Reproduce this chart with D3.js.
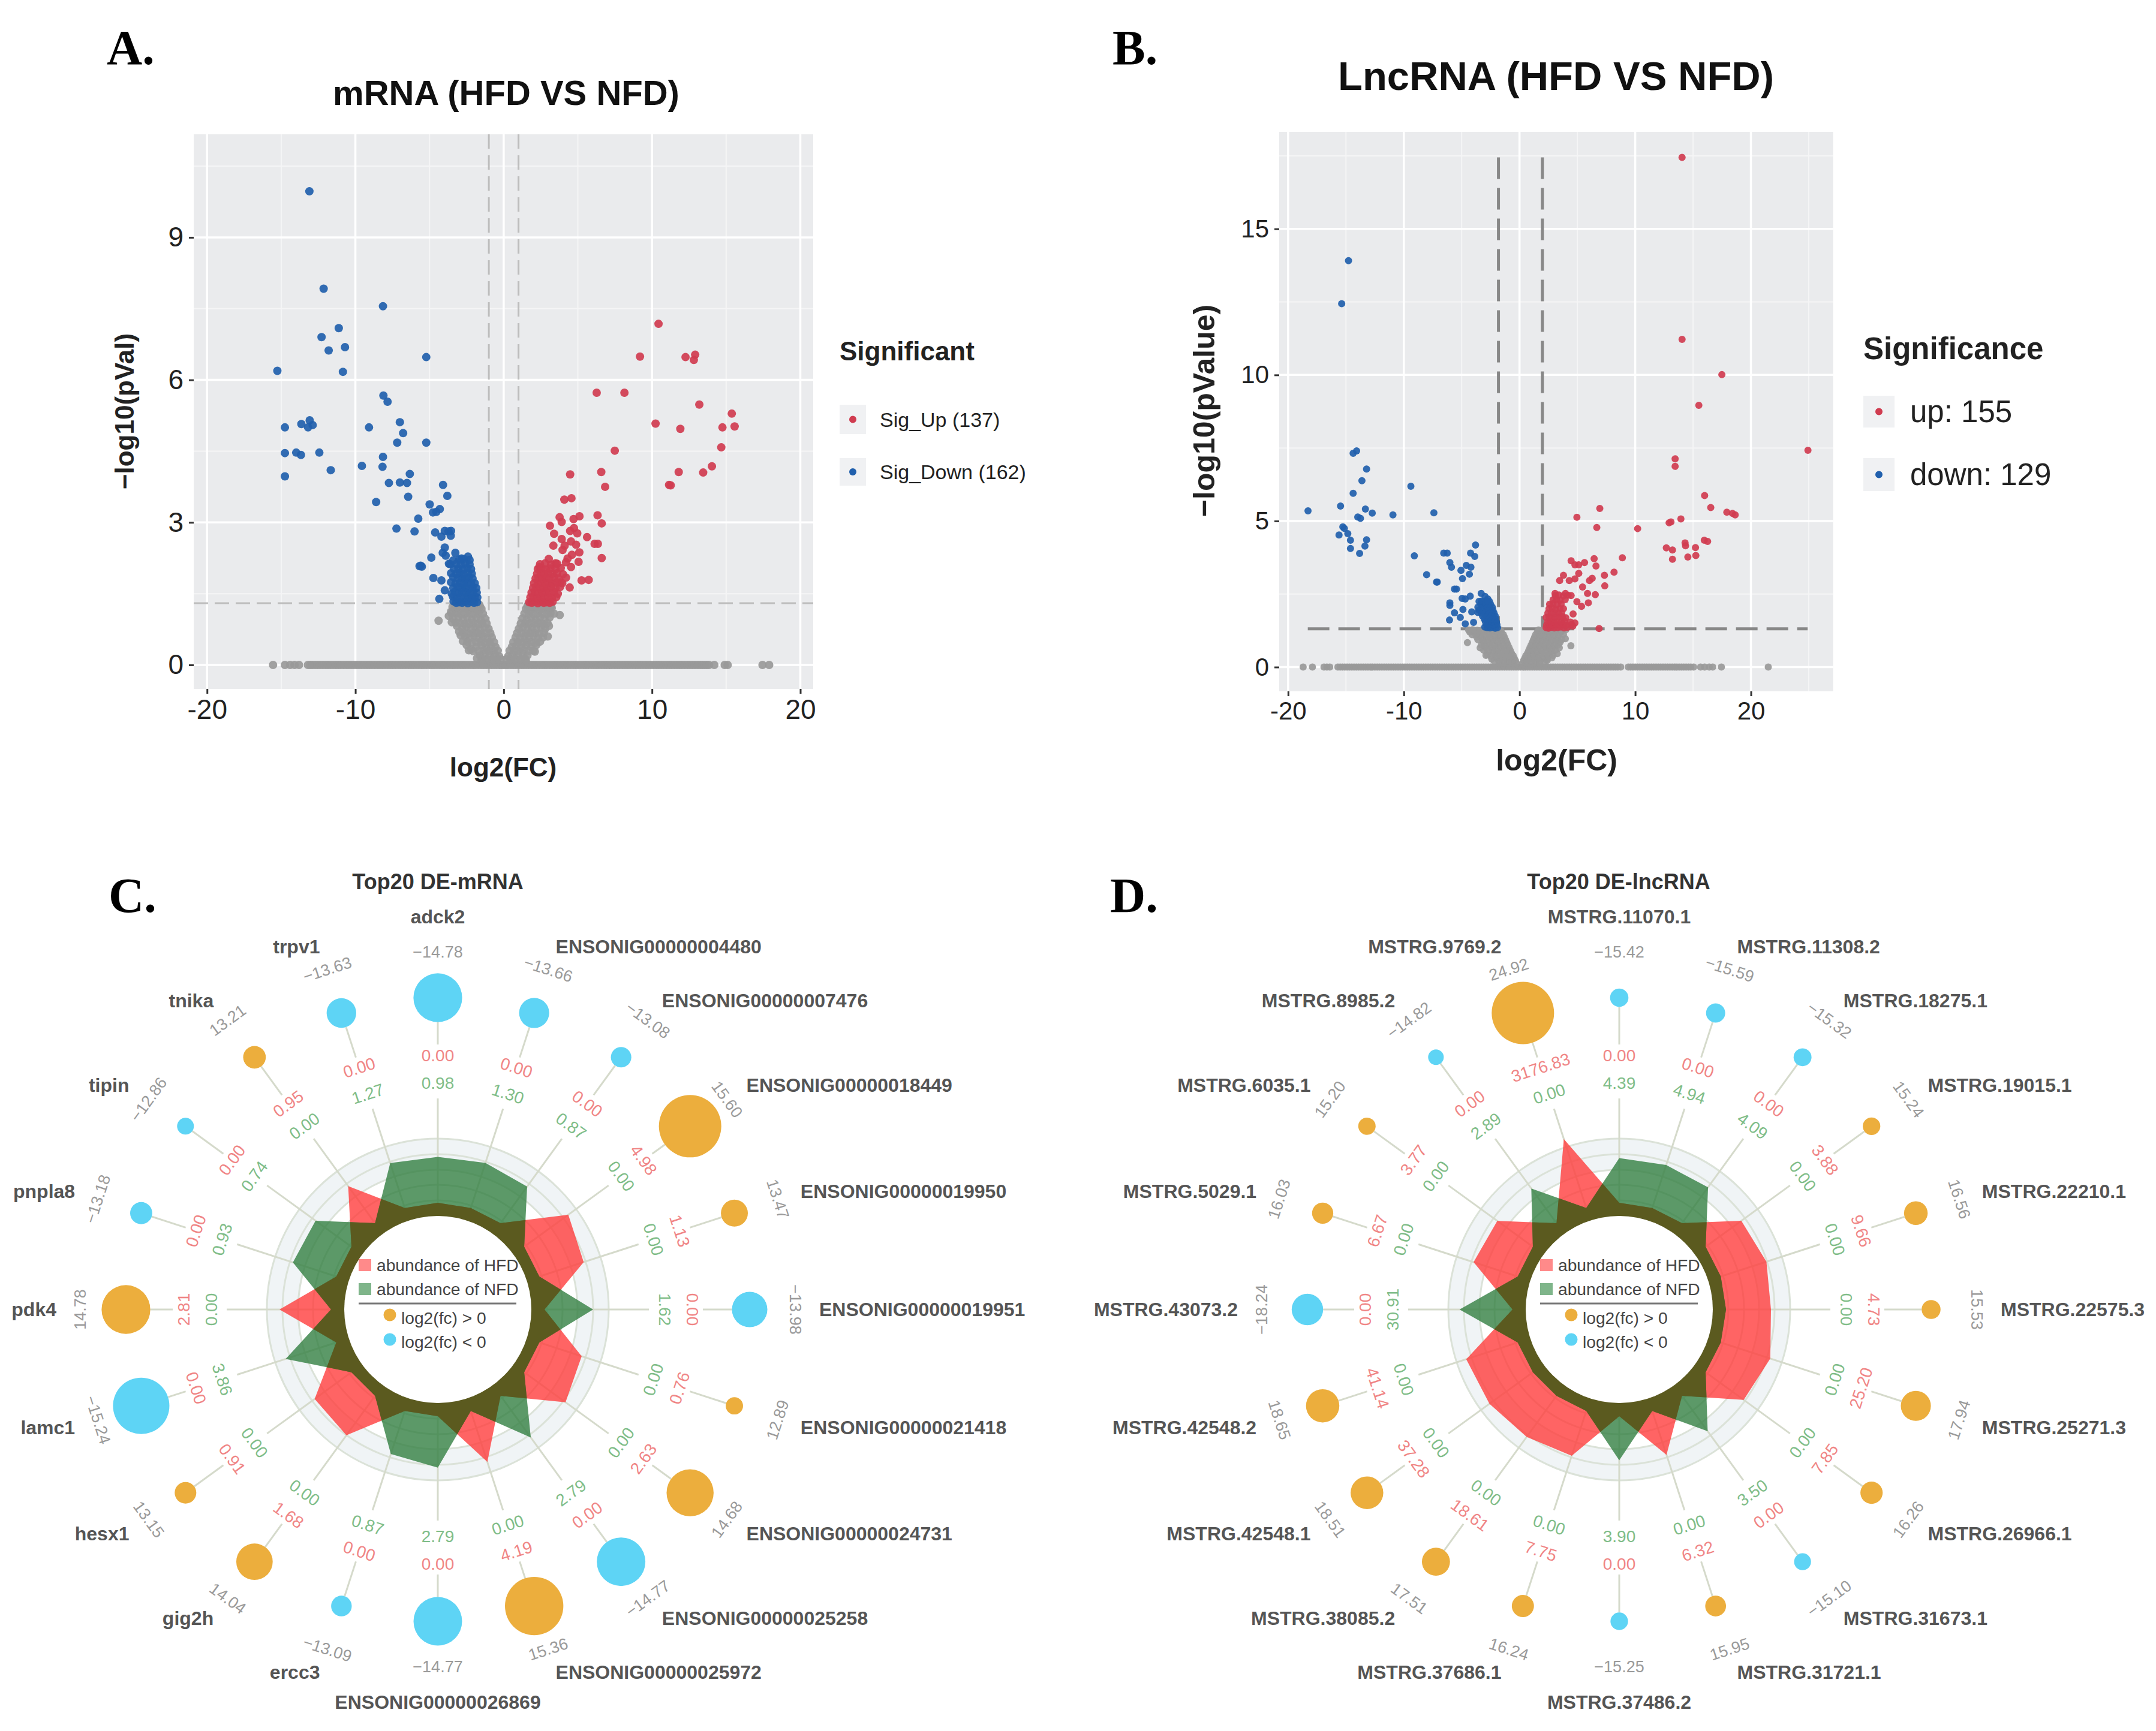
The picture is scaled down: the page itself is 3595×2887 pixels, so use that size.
<!DOCTYPE html>
<html><head><meta charset="utf-8">
<script src="https://cdn.jsdelivr.net/npm/d3@7/dist/d3.min.js"></script>
<style>html,body{margin:0;padding:0;background:#fff}svg{display:block}text{font-family:"Liberation Sans",Arial,sans-serif}</style>
</head><body><svg id="chart" width="3595" height="2887" viewBox="0 0 3595 2887"></svg>
<script>
// ---------- Panel A data: [log2FC, -log10 p] ----------
const mrnaDown=[[-13.1,9.97],[-12.14,7.92],[-8.14,7.55],[-11.12,7.09],[-12.28,6.9],[-10.7,6.69],[-11.8,6.62],[-5.22,6.48],[-15.26,6.19],[-10.84,6.17],[-8.11,5.67],[-7.83,5.54],[-7,5.11],[-13.64,5.07],[-13.08,5.15],[-12.88,5.05],[-13.19,5],[-14.75,5],[-9.08,5],[-6.78,4.88],[-7.18,4.68],[-5.22,4.68],[-14.75,4.46],[-13.99,4.47],[-13.67,4.42],[-12.43,4.47],[-8.14,4.38],[-9.56,4.19],[-8.17,4.17],[-11.66,4.1],[-14.75,3.97],[-6.33,4.02],[-7.74,3.83],[-7,3.84],[-6.52,3.83],[-4.09,3.79],[-3.8,3.56],[-6.44,3.54],[-8.6,3.43],[-4.99,3.38],[-4.31,3.28],[-4.77,3.21],[-4.54,3.22],[-5.76,3.08],[-7.23,2.87],[-6.01,2.81],[-4.62,2.79],[-3.97,2.82],[-3.72,2.81],[-3.55,2.82],[-4.2,2.7],[-3.57,2.72],[-3.97,2.47],[-4.11,2.36],[-3.91,2.3],[-3.26,2.36],[-2.41,2.28],[-4.88,2.26],[-2.84,2.24],[-3.69,2.13],[-5.67,2.08],[-5.6,2.09],[-5.52,2.07],[-4.74,1.83],[-4.2,1.78],[-3.97,1.57],[-4.34,1.39],
[-1.8,1.32],[-2,1.31],[-2.2,1.33],[-2.42,1.3],[-2.61,1.33],[-2.8,1.31],[-3,1.32],[-3.2,1.31],[-3.38,1.34],[-1.78,1.42],[-1.95,1.44],[-2.15,1.41],[-2.4,1.43],[-2.65,1.42],[-2.9,1.44],[-3.15,1.41],[-3.42,1.44],[-1.82,1.52],[-2.05,1.54],[-2.3,1.51],[-2.55,1.53],[-2.8,1.55],[-3.05,1.52],[-3.3,1.54],[-3.5,1.5],[-1.85,1.62],[-2.1,1.64],[-2.35,1.61],[-2.6,1.63],[-2.85,1.62],[-3.1,1.65],[-3.4,1.62],[-1.95,1.72],[-2.2,1.71],[-2.45,1.74],[-2.7,1.72],[-2.95,1.73],[-3.25,1.71],[-3.55,1.74],[-2.1,1.82],[-2.35,1.84],[-2.6,1.81],[-2.85,1.83],[-3.1,1.82],[-3.4,1.85],[-2.15,1.92],[-2.4,1.93],[-2.7,1.91],[-2.95,1.94],[-3.2,1.92],[-3.55,1.93],[-2.2,2.02],[-2.45,2.04],[-2.75,2.01],[-3.05,2.03],[-3.35,2.02],[-2.3,2.12],[-2.6,2.14],[-2.9,2.11],[-3.2,2.13],[-3.6,2.12],[-2.3,2.21],[-2.7,2.23],[-3,2.22],[-3.4,2.2]];
const mrnaUp=[[10.44,7.18],[9.19,6.49],[12.26,6.48],[12.91,6.53],[12.82,6.42],[6.27,5.73],[8.14,5.73],[13.19,5.48],[15.38,5.29],[10.24,5.08],[11.91,4.97],[14.75,5],[15.57,5.02],[14.67,4.58],[7.49,4.51],[6.58,4.06],[11.8,4.06],[13.45,4.05],[14.04,4.18],[4.48,4.01],[6.84,3.75],[11.15,3.79],[11.26,3.78],[4.09,3.48],[4.57,3.51],[6.33,3.15],[5.11,3.13],[4.71,3.07],[3.77,3.11],[3.91,3.01],[6.61,2.98],[3.12,2.93],[4.74,2.88],[4.48,2.82],[4.96,2.77],[3.4,2.76],[5.62,2.69],[3.91,2.65],[4.54,2.6],[4.88,2.53],[3.35,2.51],[4.11,2.51],[6.13,2.55],[6.35,2.55],[3.97,2.42],[5.1,2.37],[4.6,2.32],[6.61,2.25],[3.04,2.23],[4.31,2.24],[5.05,2.17],[4.2,2.16],[4.54,2.06],[2.41,2.06],[3.49,2.14],[5.25,1.78],[5.73,1.79],[4.45,1.63],[3.83,1.74],
[1.72,1.32],[1.9,1.31],[2.1,1.33],[2.3,1.3],[2.5,1.33],[2.7,1.31],[2.9,1.32],[3.1,1.31],[3.3,1.33],[1.8,1.42],[2,1.44],[2.25,1.41],[2.5,1.43],[2.75,1.42],[3,1.44],[3.25,1.41],[3.55,1.43],[1.88,1.52],[2.1,1.54],[2.35,1.51],[2.6,1.53],[2.85,1.55],[3.1,1.52],[3.4,1.54],[3.65,1.5],[1.98,1.62],[2.2,1.64],[2.45,1.61],[2.7,1.63],[2.95,1.62],[3.2,1.65],[3.5,1.62],[3.8,1.64],[2.05,1.72],[2.3,1.71],[2.55,1.74],[2.8,1.72],[3.05,1.73],[3.3,1.71],[3.6,1.74],[3.95,1.72],[2.15,1.82],[2.35,1.84],[2.6,1.81],[2.85,1.83],[3.1,1.82],[3.4,1.85],[3.7,1.82],[4.2,1.84],[2.25,1.92],[2.5,1.93],[2.75,1.91],[3,1.94],[3.3,1.92],[3.6,1.93],[4,1.91],[2.3,2.02],[2.55,2.04],[2.85,2.01],[3.15,2.03],[3.5,2.02],[3.85,2.04],[2.45,2.12],[2.8,2.14],[3.2,2.11],[3.6,2.13]];
const mrnaZeroX=[-15.55,-14.75,-14.4,-14.1,-13.8,-13.2,-13.05,-12.9,-12.72,-12.55,-12.38,-12.2,-12.02,-11.85,-11.68,-11.5,-11.32,-11.15,-10.98,-10.8,-10.62,-10.45,-10.28,-10.1,-9.92,-9.75,-9.58,-9.4,-9.22,-9.05,-8.88,-8.7,-8.52,-8.35,-8.18,-8,-7.82,-7.65,-7.48,-7.3,-7.12,-6.95,-6.78,-6.6,-6.42,-6.25,-6.08,-5.9,-5.72,-5.55,-5.38,-5.2,-5.02,-4.85,-4.68,-4.5,-4.32,-4.15,-3.98,-3.8,-3.62,-3.45,-3.28,-3.1,-2.92,-2.75,-2.58,-2.4,-2.22,-2.05,-1.88,-1.7,-1.52,-1.35,-1.18,-1,-0.82,-0.65,-0.48,-0.3,-0.15,0,0.15,0.3,0.48,0.65,0.82,1,1.18,1.35,1.52,1.7,1.88,2.05,2.22,2.4,2.58,2.75,2.92,3.1,3.28,3.45,3.62,3.8,3.98,4.15,4.32,4.5,4.68,4.85,5.02,5.2,5.38,5.55,5.72,5.9,6.08,6.25,6.42,6.6,6.78,6.95,7.12,7.3,7.48,7.65,7.82,8,8.18,8.35,8.52,8.7,8.88,9.05,9.22,9.4,9.58,9.75,9.92,10.1,10.28,10.45,10.62,10.8,10.98,11.15,11.32,11.5,11.68,11.85,12.02,12.2,12.38,12.55,12.72,12.9,13.08,13.25,13.4,13.55,13.7,13.85,14.2,14.9,15.1,17.45,17.9];
const mrnaGray=[[-0.3,0.18],[-0.6,0.22],[-0.95,0.2],[-1.3,0.24],[-1.6,0.2],[-0.55,0.38],[-0.85,0.4],[-1.15,0.36],[-1.5,0.42],[-1.85,0.38],[-2.2,0.33],[-2.5,0.42],[-0.8,0.58],[-1.1,0.55],[-1.4,0.6],[-1.7,0.57],[-2,0.62],[-2.3,0.56],[-2.6,0.6],[-2.9,0.62],[-1.02,0.76],[-1.3,0.8],[-1.6,0.74],[-1.9,0.79],[-2.2,0.75],[-2.5,0.81],[-2.8,0.76],[-3.15,0.82],[-1.27,0.98],[-1.55,0.94],[-1.85,1],[-2.15,0.95],[-2.45,1],[-2.75,0.96],[-3.05,1.01],[-3.4,0.97],[-3.7,1.03],[-1.5,1.18],[-1.8,1.14],[-2.1,1.2],[-2.4,1.15],[-2.7,1.2],[-3,1.16],[-3.3,1.2],[-3.55,1.12],[-1.65,1.27],[-2,1.27],[-2.4,1.27],[-2.8,1.26],[-3.2,1.25],[-4.39,0.93],[-0.5,0.1],[-1,0.1],[-1.5,0.1],
[-0.2,0.12],[-0.45,0.12],[-0.75,0.13],[-1.15,0.12],[-1.45,0.13],[-1.8,0.14],[-0.4,0.3],[-0.7,0.3],[-1,0.29],[-1.35,0.31],[-1.7,0.3],[-2.05,0.29],[-2.35,0.31],[-0.65,0.48],[-0.95,0.48],[-1.25,0.47],[-1.55,0.49],[-1.85,0.48],[-2.15,0.47],[-2.45,0.49],[-2.75,0.5],[-0.9,0.67],[-1.2,0.67],[-1.5,0.66],[-1.8,0.68],[-2.1,0.67],[-2.4,0.66],[-2.7,0.68],[-3,0.7],[-1.15,0.87],[-1.45,0.87],[-1.75,0.86],[-2.05,0.88],[-2.35,0.87],[-2.65,0.86],[-2.95,0.88],[-3.25,0.89],[-3.5,0.9],[-1.4,1.08],[-1.7,1.08],[-2,1.07],[-2.3,1.09],[-2.6,1.08],[-2.9,1.07],[-3.2,1.09],[-3.5,1.08],[-1.6,1.23],[-1.9,1.23],[-2.2,1.22],[-2.55,1.24],[-2.85,1.23],[-3.15,1.22],[-3.45,1.22],
[0.3,0.18],[0.6,0.22],[0.95,0.2],[1.3,0.24],[1.6,0.2],[2.1,0.28],[0.55,0.38],[0.85,0.4],[1.15,0.36],[1.5,0.42],[1.85,0.38],[2.2,0.42],[0.8,0.58],[1.1,0.55],[1.4,0.6],[1.7,0.57],[2,0.62],[2.3,0.56],[2.65,0.58],[2.97,0.6],[1.02,0.76],[1.3,0.8],[1.6,0.74],[1.9,0.79],[2.2,0.75],[2.5,0.81],[2.8,0.76],[3.05,0.82],[1.27,0.98],[1.55,0.94],[1.85,1],[2.15,0.95],[2.45,1],[2.75,0.96],[3.1,1],[3.78,1.05],[1.5,1.18],[1.8,1.14],[2.1,1.2],[2.4,1.15],[2.7,1.2],[3,1.16],[3.24,1.2],[3.4,1.08],[1.65,1.27],[2,1.27],[2.4,1.27],[2.8,1.26],[3.2,1.25],[0.5,0.1],[1,0.1],[1.5,0.1],
[0.2,0.12],[0.45,0.12],[0.75,0.13],[1.15,0.12],[1.45,0.13],[0.4,0.3],[0.7,0.3],[1,0.29],[1.35,0.31],[1.7,0.3],[2,0.3],[0.65,0.48],[0.95,0.48],[1.25,0.47],[1.55,0.49],[1.85,0.48],[2.15,0.47],[2.45,0.49],[0.9,0.67],[1.2,0.67],[1.5,0.66],[1.8,0.68],[2.1,0.67],[2.4,0.66],[2.7,0.68],[1.15,0.87],[1.45,0.87],[1.75,0.86],[2.05,0.88],[2.35,0.87],[2.65,0.86],[2.95,0.88],[1.4,1.08],[1.7,1.08],[2,1.07],[2.3,1.09],[2.6,1.08],[2.9,1.07],[3.15,1.09],[1.6,1.23],[1.9,1.23],[2.2,1.22],[2.55,1.24],[2.85,1.23],[3.15,1.22]];
// ---------- Panel B data ----------
const lncDown=[[-14.78,13.91],[-15.37,12.44],[-14.08,7.4],[-14.38,7.32],[-13.22,6.78],[-13.62,6.38],[-9.39,6.19],[-14.38,5.95],[-15.47,5.51],[-13.32,5.41],[-18.28,5.35],[-12.73,5.27],[-7.4,5.28],[-10.94,5.21],[-13.98,5.14],[-13.75,5.09],[-15.27,4.8],[-15.14,4.75],[-14.84,4.57],[-15.6,4.52],[-14.61,4.34],[-13.22,4.36],[-13.36,4.14],[-14.61,4.06],[-13.82,3.89],[-3.8,4.18],[-9.09,3.81],[-6.55,3.9],[-6.25,3.9],[-4.23,3.9],[-3.87,3.79],[-6.02,3.58],[-5.88,3.42],[-4.6,3.48],[-4.2,3.42],[-5.06,3.31],[-4.33,3.18],[-4.93,3.03],[-8.03,3.16],[-7.11,2.91],[-7.17,2.91],[-5.45,2.67],[-5.62,2.67],[-6.02,2.2],[-6.02,2.11],[-4.96,2.35],[-4.69,2.33],[-4.26,2.43],[-3.31,2.52],[-2.98,2.42],[-2.74,2.33],[-5.62,1.86],[-4.89,1.97],[-6.05,1.61],[-5.12,1.7],[-4.69,1.48],[-3.97,1.53],[-4.13,1.89],
[-1.9,1.35],[-2.1,1.33],[-2.3,1.36],[-2.55,1.34],[-2.8,1.35],[-3,1.37],[-1.95,1.45],[-2.15,1.47],[-2.35,1.44],[-2.6,1.46],[-2.85,1.45],[-2,1.55],[-2.2,1.57],[-2.45,1.54],[-2.7,1.56],[-2.95,1.55],[-2.05,1.65],[-2.3,1.67],[-2.5,1.64],[-2.75,1.66],[-3.05,1.65],[-2.1,1.75],[-2.35,1.77],[-2.6,1.74],[-2.9,1.76],[-3.2,1.75],[-2.2,1.85],[-2.45,1.87],[-2.7,1.84],[-3,1.86],[-3.3,1.85],[-3.6,1.87],[-2.3,1.95],[-2.55,1.97],[-2.85,1.94],[-3.15,1.96],[-3.5,1.95],[-2.35,2.05],[-2.6,2.07],[-2.9,2.04],[-3.2,2.06],[-3.6,2.05],[-2.5,2.15],[-2.75,2.17],[-3.05,2.14],[-3.35,2.16],[-2.6,2.25],[-2.85,2.27],[-3.1,2.24],[-3.3,2.26],[-3.5,2.25]];
const lncUp=[[14.05,17.45],[14.05,11.22],[17.49,10.01],[15.5,8.96],[24.93,7.42],[13.45,7.13],[13.45,6.87],[16,5.87],[16.53,5.46],[6.94,5.43],[17.92,5.3],[18.41,5.26],[18.64,5.21],[4.96,5.13],[13.95,5.07],[13.09,4.97],[12.93,4.94],[6.68,4.78],[10.21,4.74],[15.97,4.34],[16.26,4.3],[14.31,4.25],[14.35,4.15],[12.69,4.08],[13.22,4.01],[15.21,4.09],[8.89,3.74],[15.24,3.82],[14.55,3.77],[13.22,3.69],[4.46,3.64],[6.45,3.71],[5.62,3.58],[5.12,3.5],[4.79,3.5],[6.61,3.46],[8.17,3.25],[7.34,3.14],[5.12,3.21],[4.79,3.02],[3.8,3.14],[6.28,3.04],[6.05,2.96],[3.47,2.96],[4.3,2.96],[7.37,2.78],[5.45,2.74],[5.88,2.52],[6.55,2.48],[3.07,2.52],[3.97,2.52],[4.46,2.45],[4.96,2.24],[5.36,2.08],[5.95,2.2],[4.63,1.82],[4.79,1.51],[6.88,1.32],
[2.3,1.35],[2.5,1.33],[2.75,1.36],[3,1.34],[3.3,1.35],[3.55,1.37],[3.85,1.34],[4.15,1.36],[4.6,1.4],[2.35,1.45],[2.6,1.47],[2.85,1.44],[3.15,1.46],[3.45,1.45],[3.75,1.47],[4.05,1.44],[4.5,1.46],[2.4,1.55],[2.65,1.57],[2.95,1.54],[3.25,1.56],[3.6,1.55],[3.9,1.57],[4.4,1.54],[2.3,1.7],[2.55,1.72],[2.8,1.69],[3.1,1.71],[3.4,1.7],[3.7,1.72],[4,1.69],[2.45,1.85],[2.75,1.87],[3.05,1.84],[3.35,1.86],[3.65,1.85],[2.55,2],[2.85,2.02],[3.15,1.99],[3.5,2.01],[3.8,2],[2.6,2.15],[2.9,2.17],[3.25,2.14],[3.6,2.16],[2.9,2.3],[3.2,2.32],[3.5,2.29],[3.95,2.31],[3.1,2.45],[3.4,2.47],[3.8,2.44],[4.2,2.46]];
const lncZeroX=[-18.7,-17.9,-16.9,-16.65,-16.4,-15.7,-15.5,-15.3,-15.1,-14.9,-14.7,-14.5,-14.3,-14.1,-13.9,-13.7,-13.5,-13.3,-13.1,-12.9,-12.7,-12.5,-12.3,-12.1,-11.9,-11.7,-11.5,-11.3,-11.1,-10.9,-10.7,-10.5,-10.3,-10.1,-9.9,-9.7,-9.5,-9.3,-9.1,-8.9,-8.7,-8.5,-8.3,-8.1,-7.9,-7.7,-7.5,-7.3,-7.1,-6.9,-6.7,-6.5,-6.3,-6.1,-5.9,-5.7,-5.5,-5.3,-5.1,-4.9,-4.7,-4.5,-4.3,-4.1,-3.9,-3.7,-3.5,-3.3,-3.1,-2.9,-2.7,-2.5,-2.3,-2.1,-1.9,-1.7,-1.5,-1.3,-1.1,-0.9,-0.7,-0.5,-0.3,-0.1,0.1,0.3,0.5,0.7,0.9,1.1,1.3,1.5,1.7,1.9,2.1,2.3,2.5,2.7,2.9,3.1,3.3,3.5,3.7,3.9,4.1,4.3,4.5,4.7,4.9,5.1,5.3,5.5,5.7,5.9,6.1,6.3,6.5,6.7,6.9,7.1,7.3,7.5,7.7,7.9,8.1,8.3,8.5,8.75,9.4,9.6,9.8,10,10.2,10.4,10.6,10.8,11,11.2,11.4,11.6,11.8,12,12.2,12.4,12.6,12.8,13,13.2,13.4,13.6,13.8,14,14.2,14.4,14.6,14.8,15.05,15.65,16,16.4,16.7,17.45,21.5];
const lncGray=[[-0.25,0.12],[-0.6,0.14],[-1,0.12],[-1.4,0.15],[-1.74,0.12],[-0.45,0.3],[-0.8,0.28],[-1.2,0.32],[-1.6,0.29],[-2,0.31],[-2.4,0.28],[-0.7,0.48],[-1.05,0.46],[-1.45,0.5],[-1.85,0.47],[-2.25,0.5],[-2.78,0.42],[-0.9,0.66],[-1.25,0.64],[-1.65,0.68],[-2.05,0.65],[-2.45,0.68],[-2.85,0.64],[-3.4,0.66],[-1.1,0.84],[-1.5,0.82],[-1.9,0.86],[-2.3,0.83],[-2.7,0.86],[-3.1,0.84],[-4.5,0.84],[-1.3,1.02],[-1.7,1],[-2.1,1.04],[-2.5,1.01],[-2.9,1.04],[-3.3,1],[-3.7,1.03],[-1.57,1.2],[-1.95,1.18],[-2.35,1.22],[-2.75,1.19],[-3.15,1.22],[-3.55,1.18],[-3.95,1.22],[-4.3,1.2],
[-0.35,0.22],[-0.65,0.22],[-1,0.21],[-1.4,0.23],[-1.8,0.22],[-2.2,0.21],[-0.55,0.39],[-0.95,0.39],[-1.3,0.38],[-1.7,0.4],[-2.1,0.39],[-2.5,0.38],[-2.9,0.4],[-0.8,0.57],[-1.15,0.57],[-1.55,0.56],[-1.95,0.58],[-2.35,0.57],[-2.75,0.56],[-3.1,0.58],[-1,0.75],[-1.4,0.75],[-1.8,0.74],[-2.2,0.76],[-2.6,0.75],[-3,0.74],[-3.3,0.76],[-1.2,0.93],[-1.6,0.93],[-2,0.92],[-2.4,0.94],[-2.8,0.93],[-3.2,0.92],[-3.6,0.94],[-1.4,1.11],[-1.8,1.11],[-2.2,1.1],[-2.6,1.12],[-3,1.11],[-3.4,1.1],[-3.8,1.12],[-4.1,1.11],[-1.65,1.27],[-2.05,1.27],[-2.45,1.26],[-2.85,1.28],[-3.25,1.27],[-3.65,1.26],[-4.05,1.28],[-4.4,1.27],
[0.25,0.12],[0.6,0.14],[1,0.12],[1.4,0.15],[1.74,0.12],[0.45,0.3],[0.8,0.28],[1.2,0.32],[1.6,0.29],[2,0.31],[2.4,0.28],[2.8,0.32],[0.7,0.48],[1.05,0.46],[1.45,0.5],[1.85,0.47],[2.25,0.5],[2.65,0.47],[3.26,0.46],[0.9,0.66],[1.25,0.64],[1.65,0.68],[2.05,0.65],[2.45,0.68],[2.85,0.64],[3.44,0.66],[4.44,0.73],[1.1,0.84],[1.5,0.82],[1.9,0.86],[2.3,0.83],[2.7,0.86],[3.1,0.84],[3.5,0.85],[1.3,1.02],[1.7,1],[2.1,1.04],[2.5,1.01],[2.9,1.04],[3.3,1],[3.96,0.97],[1.54,1.2],[1.95,1.18],[2.35,1.22],[2.75,1.19],[3.15,1.22],[3.6,1.2],
[0.35,0.22],[0.65,0.22],[1,0.21],[1.4,0.23],[1.8,0.22],[2.2,0.21],[2.4,0.23],[0.55,0.39],[0.95,0.39],[1.3,0.38],[1.7,0.4],[2.1,0.39],[2.5,0.38],[2.9,0.4],[0.8,0.57],[1.15,0.57],[1.55,0.56],[1.95,0.58],[2.35,0.57],[2.75,0.56],[3.1,0.58],[1,0.75],[1.4,0.75],[1.8,0.74],[2.2,0.76],[2.6,0.75],[3,0.74],[3.35,0.76],[1.2,0.93],[1.6,0.93],[2,0.92],[2.4,0.94],[2.8,0.93],[3.2,0.92],[3.65,0.94],[1.4,1.11],[1.8,1.11],[2.2,1.1],[2.6,1.12],[3,1.11],[3.4,1.1],[3.8,1.12],[1.65,1.27],[2.05,1.27],[2.45,1.26],[2.85,1.28],[3.25,1.27],[3.65,1.26],[4,1.28]];
const xTicksA=[-20,-10,0,10,20], yTicksA=[0,3,6,9], xMinorA=[-15,-5,5,15], yMinorA=[1.5,4.5,7.5,10.5];
const xTicksB=[-20,-10,0,10,20], yTicksB=[0,5,10,15], xMinorB=[-15,-5,5,15,25], yMinorB=[2.5,7.5,12.5,17.5];
// ---------- Panel C data (clockwise from top) ----------
const namesC=["adck2","ENSONIG00000004480","ENSONIG00000007476","ENSONIG00000018449","ENSONIG00000019950","ENSONIG00000019951","ENSONIG00000021418","ENSONIG00000024731","ENSONIG00000025258","ENSONIG00000025972","ENSONIG00000026869","ercc3","gig2h","hesx1","lamc1","pdk4","pnpla8","tipin","tnika","trpv1"];
const fcC=[-14.78,-13.66,-13.08,15.60,13.47,-13.98,12.89,14.68,-14.77,15.36,-14.77,-13.09,14.04,13.15,-15.24,14.78,-13.18,-12.86,13.21,-13.63];
const hfdC=[0,0,0,4.98,1.13,0,0.76,2.63,0,4.19,0,0,1.68,0.91,0,2.81,0,0,0.95,0];
const nfdC=[0.98,1.30,0.87,0,0,1.62,0,0,2.79,0,2.79,0.87,0,0,3.86,0,0.93,0.74,0,1.27];
// ---------- Panel D data ----------
const namesD=["MSTRG.11070.1","MSTRG.11308.2","MSTRG.18275.1","MSTRG.19015.1","MSTRG.22210.1","MSTRG.22575.3","MSTRG.25271.3","MSTRG.26966.1","MSTRG.31673.1","MSTRG.31721.1","MSTRG.37486.2","MSTRG.37686.1","MSTRG.38085.2","MSTRG.42548.1","MSTRG.42548.2","MSTRG.43073.2","MSTRG.5029.1","MSTRG.6035.1","MSTRG.8985.2","MSTRG.9769.2"];
const fcD=[-15.42,-15.59,-15.32,15.24,16.56,15.53,17.94,16.26,-15.10,15.95,-15.25,16.24,17.51,18.51,18.65,-18.24,16.03,15.20,-14.82,24.92];
const hfdD=[0,0,0,3.88,9.66,4.73,25.20,7.85,0,6.32,0,7.75,18.61,37.28,41.14,0,6.67,3.77,0,3176.83];
const nfdD=[4.39,4.94,4.09,0,0,0,0,0,3.50,0,3.90,0,0,0,0,30.91,0,0,2.89,0];

const svg=d3.select("#chart");
const RED="#d03c50",BLUE="#2160ad",GRAY="#999999",ORANGE="#ecae3d",CYAN="#5ed4f5";

function txt(g,x,y,s,size,opt={}){
  const t=g.append("text").attr("x",x).attr("y",y).attr("font-size",size).attr("fill",opt.fill||"#111")
   .attr("font-weight",opt.weight||"normal").attr("text-anchor",opt.anchor||"start").attr("dominant-baseline",opt.base||"central").text(s);
  if(opt.family)t.style("font-family",opt.family);
  if(opt.rot!==undefined)t.attr("transform",`rotate(${opt.rot},${x},${y})`);
  return t;
}

function volcano(o){
  const g=svg.append("g");
  const x=d3.scaleLinear().domain(o.xd).range([o.l,o.r]);
  const y=d3.scaleLinear().domain(o.yd).range([o.b,o.t]);
  g.append("rect").attr("x",o.l).attr("y",o.t).attr("width",o.r-o.l).attr("height",o.b-o.t).attr("fill","#eaebed");
  g.selectAll(".mx").data(o.xMinor).join("line").attr("x1",x).attr("x2",x).attr("y1",o.t).attr("y2",o.b).attr("stroke","#f5f5f6").attr("stroke-width",2);
  g.selectAll(".my").data(o.yMinor).join("line").attr("y1",y).attr("y2",y).attr("x1",o.l).attr("x2",o.r).attr("stroke","#f5f5f6").attr("stroke-width",2);
  g.selectAll(".gx").data(o.xTicks).join("line").attr("x1",x).attr("x2",x).attr("y1",o.t).attr("y2",o.b).attr("stroke","#fff").attr("stroke-width",3.5);
  g.selectAll(".gy").data(o.yTicks).join("line").attr("y1",y).attr("y2",y).attr("x1",o.l).attr("x2",o.r).attr("stroke","#fff").attr("stroke-width",3.5);
  const dash=(a,b,c,d)=>g.append("line").attr("x1",a).attr("y1",b).attr("x2",c).attr("y2",d).attr("stroke",o.dashColor).attr("stroke-width",o.dashW).attr("stroke-dasharray",o.dash);
  o.vLines.forEach(v=>dash(x(v),y(o.vRange[1]),x(v),y(o.vRange[0])));
  dash(x(o.hRange[0]),y(o.hLine),x(o.hRange[1]),y(o.hLine));
  const pts=(d,c)=>g.append("g").selectAll("circle").data(d).join("circle").attr("cx",p=>x(p[0])).attr("cy",p=>y(p[1])).attr("r",o.pr).attr("fill",c).attr("fill-opacity",.92);
  pts(o.zero.map(v=>[v,0]),GRAY); pts(o.gray,GRAY); pts(o.down,BLUE); pts(o.up,RED);
  // axes
  const ax=g.append("g").attr("transform",`translate(0,${o.b})`).call(d3.axisBottom(x).tickValues(o.xTicks).tickFormat(d=>String(d)).tickSize(8).tickPadding(o.tp));
  const ay=g.append("g").attr("transform",`translate(${o.l},0)`).call(d3.axisLeft(y).tickValues(o.yTicks).tickFormat(d=>String(d)).tickSize(8).tickPadding(o.tp));
  [ax,ay].forEach(a=>{a.select(".domain").remove();a.selectAll("line").attr("stroke","#333").attr("stroke-width",3);a.selectAll("text").attr("font-size",o.tick).attr("fill","#222").style("font-family",'"Liberation Sans"');});
  txt(g,o.titleX,o.titleY,o.title,o.titleSize,{weight:"bold",anchor:"middle"});
  txt(g,o.xlX,o.xlY,"log2(FC)",o.labelSize,{weight:"bold",anchor:"middle",fill:"#222"});
  txt(g,o.ylX,o.ylY,o.ylabel,o.labelSize,{weight:"bold",anchor:"middle",fill:"#222",rot:-90});
  // legend
  txt(g,o.legX,o.legTitleY,o.legTitle,o.legTitleSize,{weight:"bold",fill:"#222"});
  o.legend.forEach((t,i)=>{
    const k=o.keys[i];
    g.append("rect").attr("x",o.legX).attr("y",k[0]).attr("width",o.keyW).attr("height",k[1]-k[0]).attr("fill","#f0f1f3");
    g.append("circle").attr("cx",o.legX+o.keyW/2).attr("cy",(k[0]+k[1])/2).attr("r",o.keyR).attr("fill",i?BLUE:RED);
    txt(g,o.legTextX,(k[0]+k[1])/2,t,o.legSize,{fill:"#222"});
  });
}

volcano({l:323,r:1356,t:224,b:1149,xd:[-20.9,20.87],yd:[-0.505,11.17],
  xTicks:xTicksA,yTicks:yTicksA,xMinor:xMinorA,yMinor:yMinorA,zero:mrnaZeroX,gray:mrnaGray,down:mrnaDown,up:mrnaUp,pr:7,
  vLines:[-1,1],vRange:[-0.505,11.17],hRange:[-20.9,20.87],hLine:1.3,dashColor:"#bdbdbd",dashW:3,dash:"24 11",
  tick:46,tp:9,title:"mRNA (HFD VS NFD)",titleX:844,titleY:154,titleSize:58,xlX:839,xlY:1279,ylX:207,ylY:686,ylabel:"\u2212log10(pVal)",labelSize:44,
  legX:1400,legTitle:"Significant",legTitleY:585,legTitleSize:44,legend:["Sig_Up (137)","Sig_Down (162)"],keys:[[675,724],[764,810]],keyW:44,keyR:6,legTextX:1467,legSize:34});

volcano({l:2133,r:3056.5,t:220,b:1153,xd:[-20.77,27.1],yd:[-0.83,18.32],
  xTicks:xTicksB,yTicks:yTicksB,xMinor:xMinorB,yMinor:yMinorB,zero:lncZeroX,gray:lncGray,down:lncDown,up:lncUp,pr:6,
  vLines:[-1.82,1.98],vRange:[1.2,17.45],hRange:[-18.3,24.9],hLine:1.31,dashColor:"#888888",dashW:5,dash:"36 15",
  tick:42,tp:9,title:"LncRNA (HFD VS NFD)",titleX:2594.5,titleY:126,titleSize:67,xlX:2595.6,xlY:1268,ylX:2008,ylY:685,ylabel:"\u2212log10(pValue)",labelSize:50,
  legX:3107,legTitle:"Significance",legTitleY:581,legTitleSize:51,legend:["up: 155","down: 129"],keys:[[660,713],[764,819]],keyW:52,keyR:6,legTextX:3185,legSize:51});

function radial(o){
  const g=svg.append("g").attr("transform",`translate(${o.cx},${o.cy})`);
  const n=o.names.length, ang=i=>i*2*Math.PI/n;
  const pol=(r,i)=>[r*Math.sin(ang(i)),-r*Math.cos(ang(i))];
  const ringR=[285,259,233,208,182];
  const arc=d3.arc().startAngle(0).endAngle(2*Math.PI);
  g.append("path").attr("d",arc({innerRadius:233,outerRadius:285})).attr("fill","#f0f4f6");
  g.selectAll(".ring").data(ringR).join("circle").attr("r",d=>d).attr("fill","none").attr("stroke","#dbe2d8").attr("stroke-width",3);
  // spokes
  const seg=(a,b,i)=>{const p=pol(a,i),q=pol(b,i);g.append("line").attr("x1",p[0]).attr("y1",p[1]).attr("x2",q[0]).attr("y2",q[1]).attr("stroke","#d5dacb").attr("stroke-width",3);};
  const size=d3.scaleLinear().domain(o.sizeD).range(o.sizeR);
  o.names.forEach((d,i)=>{seg(156,352,i);seg(442,520-size(Math.abs(o.fc[i])),i);});
  // polygons from log-scaled abundance; zero sits on the base radius
  const rad=d3.scaleLog().domain(o.radD).range(o.radR);
  const r=v=>v>0?rad(v):178;
  const poly=d3.lineRadial().angle((d,i)=>ang(i)).radius(d=>r(d)).curve(d3.curveLinearClosed);
  g.append("path").attr("d",poly(o.hfd)).attr("fill","#ff3d3d").attr("fill-opacity",.8);
  g.append("path").attr("d",poly(o.nfd)).attr("fill","#337f42").attr("fill-opacity",.8);
  const cid="clip"+o.id;
  g.append("clipPath").attr("id",cid).append("path").attr("d",poly(o.nfd));
  g.append("path").attr("d",poly(o.hfd)).attr("fill","#5b5a1f").attr("clip-path",`url(#${cid})`);
  g.append("circle").attr("r",156).attr("fill","#fff");
  const rot=i=>{const a=i*360/n; return a<=90?a:(a<270?a-180:a-360);};
  const fmt=d3.format(".2f");
  o.names.forEach((d,i)=>{
    const lab=(rr,s,fill,size0)=>{const p=pol(rr,i);txt(g,p[0],p[1],s,size0,{fill,anchor:"middle",rot:rot(i)});};
    lab(378,fmt(o.nfd[i]),"#7fbd88",28);
    lab(424,fmt(o.hfd[i]),"#f08585",28);
    lab(596,(o.fc[i]<0?"\u2212":"")+fmt(Math.abs(o.fc[i])),"#9a9a9a",27);
    const c=pol(520,i);
    g.append("circle").attr("cx",c[0]).attr("cy",c[1]).attr("r",size(Math.abs(o.fc[i]))).attr("fill",o.fc[i]>0?ORANGE:CYAN);
    const isAxis=(i===0||i===n/2);
    const np=pol(isAxis?655:636,i);
    txt(g,np[0],np[1],d,32,{weight:"bold",fill:"#555",anchor:isAxis?"middle":(i<n/2?"start":"end")});
  });
  // centre legend
  const lg=[["abundance of HFD","#ff8a8a",-74],["abundance of NFD","#7fb58a",-34]];
  lg.forEach(l=>{
    g.append("rect").attr("x",-132).attr("y",l[2]-10).attr("width",21).attr("height",20).attr("fill",l[1]);
    txt(g,-102,l[2],l[0],28.2,{fill:"#444"});
  });
  g.append("line").attr("x1",-132).attr("x2",131).attr("y1",-10).attr("y2",-10).attr("stroke","#777").attr("stroke-width",3);
  [["log2(fc) > 0",ORANGE,9,14],["log2(fc) < 0",CYAN,50,54]].forEach(l=>{
    g.append("circle").attr("cx",-80).attr("cy",l[2]).attr("r",10.5).attr("fill",l[1]);
    txt(g,-61,l[3],l[0],28.2,{fill:"#444"});
  });
  txt(g,o.titleDx,o.titleY-o.cy,o.title,36,{weight:"bold",fill:"#333",anchor:"middle"});
}

radial({id:"C",cx:730,cy:2184,names:namesC,fc:fcC,hfd:hfdC,nfd:nfdC,sizeD:[12.86,15.6],sizeR:[14,52],radD:[0.74,4.98],radR:[252,269],title:"Top20 DE-mRNA",titleDx:0,titleY:1470});
radial({id:"D",cx:2700,cy:2184,names:namesD,fc:fcD,hfd:hfdD,nfd:nfdD,sizeD:[14.82,24.92],sizeR:[13,52],radD:[2.89,3176.83],radR:[249.5,299],title:"Top20 DE-lncRNA",titleDx:-1,titleY:1470});

// panel letters
[["A.",178,107],["B.",1855,107],["C.",181,1521],["D.",1851,1521]].forEach(p=>
  txt(svg,p[1],p[2],p[0],82,{weight:"bold",base:"auto",family:'"Liberation Serif"',fill:"#000"}));
</script></body></html>
